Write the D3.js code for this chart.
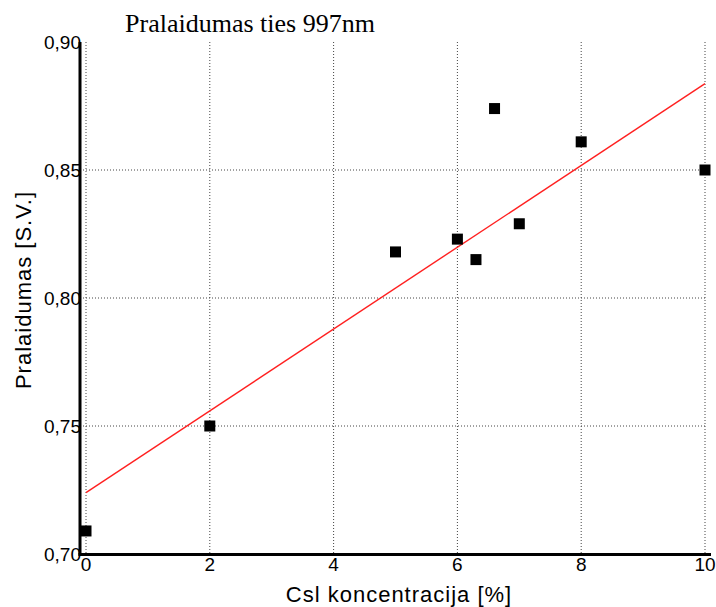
<!DOCTYPE html>
<html>
<head>
<meta charset="utf-8">
<script src="https://cdn.jsdelivr.net/npm/d3@7"></script>
<style>
  html, body { margin: 0; padding: 0; background: #fff; }
  svg { display: block; }
</style>
</head>
<body>
<svg id="chart" width="716" height="607"></svg>
<script>
// Measured transmittance at 997 nm versus CsI concentration
const concentration = [0, 2, 5, 6, 6.3, 6.6, 7, 8, 10];
const transmittance = [0.709, 0.750, 0.818, 0.823, 0.815, 0.874, 0.829, 0.861, 0.850];
const xTicks = [0, 2, 4, 6, 8, 10];
const yTicks = [0.70, 0.75, 0.80, 0.85, 0.90];
const titleText = "Pralaidumas ties 997nm";
const xTitle = "Csl koncentracija [%]";
const yTitle = "Pralaidumas [S.V.]";

const svg = d3.select("#chart");
const x = d3.scaleLinear().domain([0, 10]).range([86, 705]);
const y = d3.scaleLinear().domain([0.70, 0.90]).range([554, 42]);
const fmt = v => d3.format(".2f")(v).replace(".", ",");

// dotted grid
svg.append("g").selectAll("line").data(xTicks).join("line")
  .attr("x1", d => x(d)).attr("x2", d => x(d))
  .attr("y1", y(0.90)).attr("y2", y(0.70))
  .attr("stroke", "#444").attr("stroke-width", 1).attr("stroke-dasharray", "1,2");
svg.append("g").selectAll("line").data(yTicks.filter(v => v > 0.70 && v < 0.90)).join("line")
  .attr("x1", 80).attr("x2", x(10))
  .attr("y1", d => y(d)).attr("y2", d => y(d))
  .attr("stroke", "#444").attr("stroke-width", 1).attr("stroke-dasharray", "1,2");

// least-squares fit line
const n = concentration.length;
const mx = d3.mean(concentration), my = d3.mean(transmittance);
let sxy = 0, sxx = 0;
for (let i = 0; i < n; i++) {
  sxy += (concentration[i] - mx) * (transmittance[i] - my);
  sxx += (concentration[i] - mx) ** 2;
}
const slope = sxy / sxx, intercept = my - slope * mx;
svg.append("line")
  .attr("x1", x(0)).attr("y1", y(intercept))
  .attr("x2", x(10)).attr("y2", y(intercept + slope * 10))
  .attr("stroke", "#ff2020").attr("stroke-width", 1.4);

// axes lines
svg.append("line").attr("x1", 80).attr("x2", 80).attr("y1", 42).attr("y2", 555.5)
  .attr("stroke", "#000").attr("stroke-width", 3);
svg.append("line").attr("x1", 78.5).attr("x2", 711).attr("y1", 554.5).attr("y2", 554.5)
  .attr("stroke", "#000").attr("stroke-width", 3);

// data markers
const s = 11;
svg.append("g").selectAll("rect").data(concentration).join("rect")
  .attr("x", (d, i) => x(d) - s / 2)
  .attr("y", (d, i) => y(transmittance[i]) - s / 2)
  .attr("width", s).attr("height", s).attr("fill", "#000");

// tick labels
const tickFont = "Liberation Sans, Arial, sans-serif";
svg.append("g").selectAll("text").data(xTicks).join("text")
  .attr("x", d => x(d)).attr("y", 571)
  .attr("text-anchor", "middle").attr("font-family", tickFont).attr("font-size", 19)
  .text(d => d);
svg.append("g").selectAll("text").data(yTicks).join("text")
  .attr("x", 81).attr("y", d => y(d) + 7)
  .attr("text-anchor", "end").attr("font-family", tickFont).attr("font-size", 19)
  .text(fmt);

// titles
svg.append("text").attr("x", 250).attr("y", 32).attr("text-anchor", "middle")
  .attr("font-family", "Liberation Serif, Times New Roman, serif").attr("font-size", 26)
  .text(titleText);
svg.append("text").attr("x", 399).attr("y", 602).attr("text-anchor", "middle")
  .attr("font-family", tickFont).attr("font-size", 22).attr("letter-spacing", 1)
  .text(xTitle);
svg.append("text").attr("transform", "translate(31,290) rotate(-90)").attr("text-anchor", "middle")
  .attr("font-family", tickFont).attr("font-size", 22).attr("letter-spacing", 1)
  .text(yTitle);
</script>
</body>
</html>
